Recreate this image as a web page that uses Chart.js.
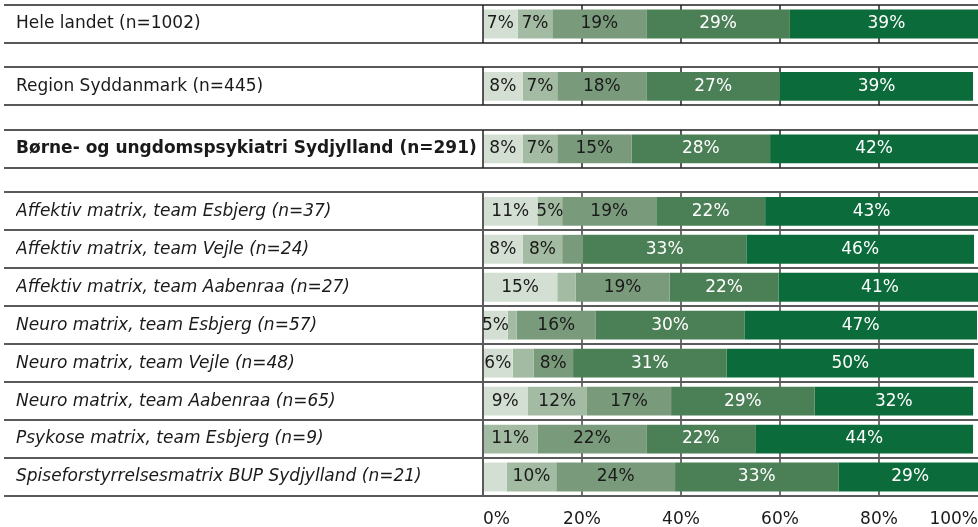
<!DOCTYPE html>
<html lang="da">
<head>
<meta charset="utf-8">
<title>Fordeling af svar</title>
<script src="https://cdn.jsdelivr.net/npm/chart.js@4.4.1/dist/chart.umd.min.js"></script>
<style>
  html, body { margin: 0; padding: 0; background: #fff; }
</style>
</head>
<body>
<canvas id="stacked-chart" width="978" height="527"></canvas>
<script>
// Rows, top to bottom
const categories = [
    'Hele landet (n=1002)',
    'Region Syddanmark (n=445)',
    'Børne- og ungdomspsykiatri Sydjylland (n=291)',
    'Affektiv matrix, team Esbjerg (n=37)',
    'Affektiv matrix, team Vejle (n=24)',
    'Affektiv matrix, team Aabenraa (n=27)',
    'Neuro matrix, team Esbjerg (n=57)',
    'Neuro matrix, team Vejle (n=48)',
    'Neuro matrix, team Aabenraa (n=65)',
    'Psykose matrix, team Esbjerg (n=9)',
    'Spiseforstyrrelsesmatrix BUP Sydjylland (n=21)'
];

// Which block a row belongs to (the first three stand alone)
const rowGroups = [0, 1, 2, 3, 3, 3, 3, 3, 3, 3, 3];

// Answer categories, lightest to darkest (no legend in the original)
const seriesNames = ['Svar 1', 'Svar 2', 'Svar 3', 'Svar 4', 'Svar 5'];

// Percentages per row; unlabelled slivers estimated from their width
const series1 = [7, 8, 8, 11, 8, 15, 5, 6, 9, 0, 4.8];
const series2 = [7, 7, 7, 5, 8, 3.7, 1.8, 4.2, 12, 11, 10];
const series3 = [19, 18, 15, 19, 4.2, 19, 16, 8, 17, 22, 24];
const series4 = [29, 27, 28, 22, 33, 22, 30, 31, 29, 22, 33];
const series5 = [39, 39, 42, 43, 46, 41, 47, 50, 32, 44, 29];

const xTicks = [0, 20, 40, 60, 80, 100];

const seriesColors = ['#d4dfd3', '#a2bba2', '#7a9b7b', '#4b7f56', '#0c6b3a'];

const FONT = "'DejaVu Sans', Verdana, sans-serif";
const GAP = 0.645; // extra room between the stand-alone rows, in row units

document.addEventListener('DOMContentLoaded', function() {
    initStackedChart();
});

function initStackedChart() {
    const canvas = document.getElementById('stacked-chart');
    if (!canvas) return;

    const allSeries = [series1, series2, series3, series4, series5];
    const rowPos = categories.map((c, i) => i + rowGroups[i] * GAP);

    // Table look: row rules, left border and short grid lines inside each row
    const tablePlugin = {
        id: 'tableLines',
        beforeDatasetsDraw(chart) {
            const { ctx, scales: { x, y } } = chart;
            ctx.save();
            rowPos.forEach((p, i) => {
                const top = y.getPixelForValue(p - 0.5);
                const bottom = y.getPixelForValue(p + 0.5);
                ctx.strokeStyle = i < 3 ? '#222222' : '#707070';
                ctx.lineWidth = i < 3 ? 1.5 : 2;
                xTicks.slice(1, -1).forEach(t => {
                    const px = Math.round(x.getPixelForValue(t));
                    ctx.beginPath();
                    ctx.moveTo(px, top);
                    ctx.lineTo(px, bottom);
                    ctx.stroke();
                });
            });
            ctx.restore();
        },
        afterDatasetsDraw(chart) {
            const { ctx, chartArea, scales: { y } } = chart;
            ctx.save();
            rowPos.forEach((p, i) => {
                const top = Math.round(y.getPixelForValue(p - 0.5));
                const bottom = Math.round(y.getPixelForValue(p + 0.5));
                ctx.strokeStyle = i < 3 ? '#222222' : '#5a5a5a';
                ctx.lineWidth = i < 3 ? 1.5 : 2;
                ctx.beginPath();
                ctx.moveTo(4, top);
                ctx.lineTo(chart.width, top);
                ctx.moveTo(4, bottom);
                ctx.lineTo(chart.width, bottom);
                ctx.moveTo(chartArea.left, top);
                ctx.lineTo(chartArea.left, bottom);
                ctx.stroke();
            });

            // percentage labels inside the segments
            ctx.font = '17px ' + FONT;
            ctx.textAlign = 'center';
            ctx.textBaseline = 'middle';
            chart.data.datasets.forEach((ds, di) => {
                const meta = chart.getDatasetMeta(di);
                ctx.fillStyle = di >= 3 ? '#ffffff' : '#1a1a1a';
                meta.data.forEach((bar, i) => {
                    const v = allSeries[di][i];
                    if (v < 5) return;
                    const c = bar.getCenterPoint();
                    ctx.fillText(Math.round(v) + '%', c.x, c.y);
                });
            });
            ctx.restore();
        }
    };

    new Chart(canvas.getContext('2d'), {
        type: 'bar',
        data: {
            datasets: allSeries.map((vals, s) => ({
                label: seriesNames[s],
                data: vals.map((v, i) => ({ x: v, y: rowPos[i] })),
                backgroundColor: seriesColors[s],
                borderWidth: 0,
                categoryPercentage: 1,
                barPercentage: 0.76
            }))
        },
        options: {
            indexAxis: 'y',
            responsive: false,
            animation: false,
            layout: {
                padding: { left: 16, top: 5, right: 0, bottom: 0 }
            },
            plugins: {
                legend: { display: false },
                tooltip: { enabled: false }
            },
            scales: {
                x: {
                    type: 'linear',
                    stacked: true,
                    min: 0,
                    max: 100,
                    afterBuildTicks: scale => {
                        scale.ticks = xTicks.map(v => ({ value: v }));
                    },
                    afterFit: scale => {
                        scale.height = 31;
                        scale.paddingLeft = 0;
                        scale.paddingRight = 0;
                    },
                    ticks: {
                        callback: v => v + '%',
                        align: 'inner',
                        padding: 16,
                        color: '#1a1a1a',
                        font: { family: FONT, size: 17, lineHeight: '15px' }
                    },
                    grid: { display: false, drawTicks: false },
                    border: { display: false }
                },
                y: {
                    type: 'linear',
                    stacked: true,
                    reverse: true,
                    offset: false,
                    min: -0.5,
                    max: rowPos[rowPos.length - 1] + 0.5,
                    afterBuildTicks: scale => {
                        scale.ticks = rowPos.map(v => ({ value: v }));
                    },
                    afterFit: scale => {
                        scale.width = 467;
                        scale.paddingTop = 0;
                        scale.paddingBottom = 0;
                    },
                    ticks: {
                        crossAlign: 'far',
                        callback: (v, i) => categories[i],
                        color: '#1a1a1a',
                        font: ctx => ({
                            family: FONT,
                            size: 17,
                            weight: ctx.index === 2 ? 'bold' : 'normal',
                            style: ctx.index >= 3 ? 'italic' : 'normal'
                        })
                    },
                    grid: { display: false, drawTicks: false, offset: false },
                    border: { display: false }
                }
            }
        },
        plugins: [tablePlugin]
    });
}
</script>
</body>
</html>
